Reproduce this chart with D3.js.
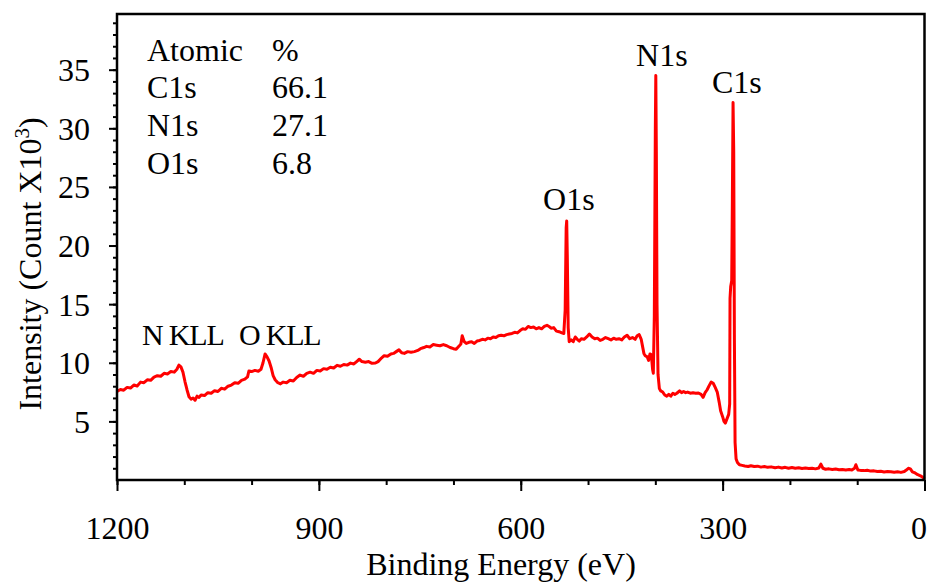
<!DOCTYPE html>
<html>
<head>
<meta charset="utf-8">
<script src="https://cdn.jsdelivr.net/npm/d3@7/dist/d3.min.js"></script>
<style>
  html, body { margin: 0; padding: 0; background: #fff; }
  svg { display: block; }
  text { font-family: "Liberation Serif", "DejaVu Serif", serif; fill: #000; }
</style>
</head>
<body>
<svg id="chart" width="927" height="582"></svg>
<script>
// XPS survey spectrum: binding energy (eV) and intensity (counts x 10^3)
const bindingEnergy = [
  1200,1195,1190,1185,1180,1175,1170,1165,1160,1155,1150,1145,1140,1135,1130,1125,1120,1115,1111,1108,
  1105,1102,1099,1096,1093,1090,1087,1084,1081,1078,1075,1070,1065,1060,1055,1050,1045,1040,1035,1030,
  1025,1020,1015,1010,1006,1004,1000,995,990,986,983,980,977,974,971,968,965,961,957,953,
  948,943,938,933,928,923,918,913,908,903,898,893,888,883,878,873,868,863,858,853,
  848,843,840,836,831,826,821,816,812,807,803,798,793,789,785,781,777,773,768,763,
  758,753,749,744,740,735,730,725,720,715,710,705,700,696,692,689,687,684,681,677,
  673,669,665,661,657,653,649,645,641,637,633,629,625,621,617,613,609,605,601,597,
  593,589,585,581,577,573,569,565,561,558,555,551,547,543,539,536,534,532.5,531.7,530.8,
  529.5,528,525,522,519,516,513,510,506,502,498,494,490,486,482,478,474,470,466,462,
  458,454,450,446,442,438,434,430,427,424,421,419,417,415,412,410,408,406,404,403,
  401.5,400,399.3,398.5,397.5,396,394,392,389,386,383,380,377,374,371,368,364,361,358,355,
  352,348,344,340,336,332,329,326,323,320,317,314,311,308,305,303,300,298,296,293,
  291,289.5,289,288,286.5,285.5,284.5,283.5,282.5,281.5,280,278,275,271,267,262,258,253,248,243,
  238,233,228,222,217,212,207,202,197,192,187,182,177,172,167,162,157,154,151,147,
  142,137,132,127,122,117,112,108,104,102,99,95,90,85,80,75,70,65,60,55,
  50,45,40,35,30,27,24,21,18,14,10,6,3,0
];
const intensity = [
  7.55,7.72,7.66,7.9,7.84,8.1,8.02,8.35,8.3,8.55,8.5,8.78,8.9,8.85,9.1,9.05,9.25,9.2,9.45,9.8,
  9.65,9.2,8.4,7.7,7.1,6.9,7.0,6.8,7.15,7.05,7.25,7.2,7.45,7.4,7.62,7.55,7.82,7.75,8.0,8.1,
  8.3,8.25,8.5,8.6,8.8,9.3,9.25,9.35,9.28,9.45,10.0,10.75,10.5,10.15,9.6,8.9,8.55,8.3,8.2,8.35,
  8.3,8.5,8.45,8.75,8.95,8.85,9.1,9.2,9.1,9.35,9.3,9.5,9.45,9.62,9.55,9.78,9.7,9.85,9.8,9.97,
  9.9,10.15,10.3,10.1,10.05,10.1,9.95,9.98,10.1,10.4,10.6,10.55,10.75,10.8,10.95,11.1,10.85,10.8,10.95,10.9,
  10.95,11.05,11.2,11.3,11.4,11.35,11.55,11.5,11.45,11.55,11.45,11.3,11.2,11.15,11.4,11.6,12.3,11.8,11.65,11.75,
  11.8,11.65,11.85,11.9,12.0,11.95,12.1,12.05,12.2,12.15,12.3,12.35,12.3,12.4,12.45,12.5,12.6,12.55,12.75,12.9,
  12.85,13.1,13.0,13.05,12.9,13.0,12.9,13.1,13.2,13.1,12.95,13.0,12.7,12.65,12.55,12.5,14.5,21.5,22.1,19,
  13,11.8,11.95,11.8,12.2,12.0,11.85,12.05,12.0,12.2,12.45,12.2,12.05,12.1,11.9,12.0,12.15,12.05,11.95,12.1,
  12.0,12.05,11.95,12.2,12.35,12.05,12.15,12.0,12.3,12.4,12.0,11.4,10.8,10.6,10.5,10.2,10.75,10.7,9.4,9.1,
  14,30,34.5,28,15,9,7.8,7.6,7.5,7.25,7.15,7.3,7.15,7.4,7.3,7.4,7.6,7.45,7.55,7.45,
  7.5,7.4,7.45,7.4,7.42,7.3,7.05,7.45,7.7,8.05,8.35,8.25,7.9,7.5,6.6,5.9,5.4,5.0,4.85,5.3,
  5.6,6.5,15.5,16.5,17,24,32.2,28,12,3.2,1.8,1.5,1.3,1.25,1.2,1.15,1.22,1.15,1.18,1.1,
  1.15,1.08,1.12,1.05,1.1,1.02,1.08,1.0,1.06,1.0,1.04,0.98,1.02,0.98,1.0,0.95,1.02,1.35,1.0,0.92,
  0.95,0.9,0.93,0.88,0.9,0.86,0.9,0.85,1.0,1.3,0.85,0.82,0.8,0.83,0.76,0.78,0.72,0.74,0.68,0.72,
  0.7,0.66,0.7,0.65,0.72,0.85,1.0,0.95,0.7,0.6,0.45,0.35,0.25,0.1
];

const xMajorTicks = [1200, 900, 600, 300, 0];
const yMajorTicks = [5, 10, 15, 20, 25, 30, 35];

const tableHeader = ["Atomic", "%"];
const tableElements = ["C1s", "N1s", "O1s"];
const tablePercents = ["66.1", "27.1", "6.8"];

// peak annotations, anchored at their left edge in data coordinates
const peakNames = ["N1s", "C1s", "O1s", "N KLL", "O KLL"];
const peakLabelEnergy = [428.7, 315.8, 566.9, 1162.8, 1018.7];
const peakLabelValue = [35.3, 33.0, 23.0, 11.5, 11.5];

const svg = d3.select("#chart");
const margin = { left: 117, top: 14, right: 2.5, bottom: 102 };
const W = 927, H = 582;
const innerW = W - margin.left - margin.right;
const innerH = H - margin.top - margin.bottom;

const x = d3.scaleLinear().domain([1200, 0]).range([0, innerW]);
const y = d3.scaleLinear().domain([0, 39.75]).range([innerH, 0]);

const g = svg.append("g").attr("transform", `translate(${margin.left},${margin.top})`);

// spectrum trace
const data = bindingEnergy.map((e, i) => [e, intensity[i]]);
g.append("path")
  .datum(data)
  .attr("fill", "none")
  .attr("stroke", "#ff0000")
  .attr("stroke-width", 3)
  .attr("stroke-linejoin", "round")
  .attr("d", d3.line().x(d => x(d[0])).y(d => y(d[1])));

// x axis: major and minor ticks
const xMinor = d3.range(0, 1201, 100);
g.append("g")
  .attr("transform", `translate(0,${innerH})`)
  .call(d3.axisBottom(x).tickValues(xMinor).tickSize(5).tickFormat(""))
  .call(a => a.select(".domain").remove())
  .selectAll("line").attr("stroke-width", 2);
const xAx = g.append("g")
  .attr("transform", `translate(0,${innerH})`)
  .call(d3.axisBottom(x).tickValues(xMajorTicks).tickSize(11).tickPadding(25).tickFormat(d3.format("d")));
xAx.select(".domain").remove();
xAx.selectAll("line").attr("stroke-width", 2);
xAx.selectAll("text").attr("font-size", 32).attr("font-family", "Liberation Serif");
// the last label sits flush against the right edge
xAx.selectAll(".tick").filter(d => d === 0).select("text")
  .attr("text-anchor", "end").attr("x", 2);

// y axis: major and minor ticks
const yMinor = d3.range(1, 40, 1);
g.append("g")
  .call(d3.axisLeft(y).tickValues(yMinor).tickSize(4).tickFormat(""))
  .call(a => a.select(".domain").remove())
  .selectAll("line").attr("stroke-width", 2);
const yAx = g.append("g")
  .call(d3.axisLeft(y).tickValues(yMajorTicks).tickSize(8).tickPadding(19).tickFormat(d3.format("d")));
yAx.select(".domain").remove();
yAx.selectAll("line").attr("stroke-width", 2);
yAx.selectAll("text").attr("font-size", 32).attr("font-family", "Liberation Serif").attr("dy", "0.34em");

// plot frame
g.append("rect")
  .attr("x", 0).attr("y", 0)
  .attr("width", innerW).attr("height", innerH)
  .attr("fill", "none").attr("stroke", "#000").attr("stroke-width", 2.5);

// axis titles
svg.append("text")
  .attr("x", 501).attr("y", 575)
  .attr("text-anchor", "middle")
  .attr("font-size", 32)
  .text("Binding Energy (eV)");

const yTitle = svg.append("text")
  .attr("transform", "translate(41,264) rotate(-90)")
  .attr("text-anchor", "middle")
  .attr("font-size", 32);
yTitle.append("tspan").text("Intensity (Count X10");
yTitle.append("tspan").attr("font-size", 21).attr("dy", -12).text("3");
yTitle.append("tspan").attr("dy", 12).text(")");

// composition table
const colX = [147, 272];
const rowY = [61, 98, 136, 174];
tableHeader.forEach((t, i) => {
  svg.append("text").attr("x", colX[i]).attr("y", rowY[0]).attr("font-size", 32).text(t);
});
tableElements.forEach((t, i) => {
  svg.append("text").attr("x", colX[0]).attr("y", rowY[i + 1]).attr("font-size", 32).text(t);
  svg.append("text").attr("x", colX[1]).attr("y", rowY[i + 1]).attr("font-size", 32).text(tablePercents[i]);
});

// peak annotations
peakNames.forEach((t, i) => {
  const isAuger = t.includes("KLL");
  g.append("text")
    .attr("x", x(peakLabelEnergy[i]))
    .attr("y", y(peakLabelValue[i]))
    .attr("font-size", isAuger ? 30 : 32)
    .attr("letter-spacing", isAuger ? -1.2 : 0)
    .text(t);
});
</script>
</body>
</html>
